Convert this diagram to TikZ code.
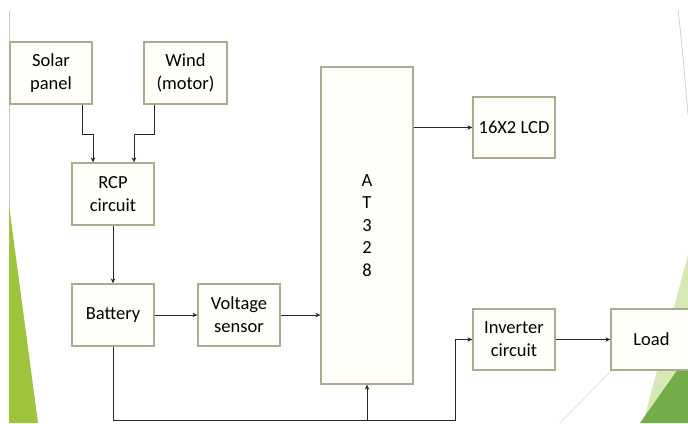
\documentclass[tikz,border=0pt]{standalone}
\usepackage{fontspec}
\setmainfont{Carlito}
\usetikzlibrary{arrows.meta}
\definecolor{boxline}{HTML}{ABAB90}
\definecolor{boxfill}{HTML}{FFFFFA}
\definecolor{leafgreen}{HTML}{9DC43C}
\definecolor{palegreen}{HTML}{D6E8B4}
\definecolor{deepgreen}{HTML}{72AD48}
\tikzset{
  block/.style={draw=boxline, fill=boxfill, line width=1.3pt, inner sep=0pt,
    minimum width=82pt, minimum height=62pt, align=center,
    font=\fontsize{18.5}{23}\selectfont},
  wire/.style={draw=black!85, line width=1pt, -{Stealth[length=5pt,width=4.5pt]}}
}
\begin{document}
\begin{tikzpicture}[x=1pt, y=-1pt]
    \useasboundingbox (0,0) rectangle (688,423);

    % slide decoration
    \draw[gray!45, line width=0.8pt] (9,11) -- (9,210);
    \fill[leafgreen] (9,205) -- (9,423) -- (38,423) -- cycle;
    \fill[palegreen] (688,255) -- (643,423) -- (688,423) -- cycle;
    \fill[deepgreen] (688,355) -- (640,423) -- (688,423) -- cycle;
    \draw[gray!25, line width=0.7pt] (611,371) -- (560,423);
    \draw[gray!40, line width=0.7pt] (678,10) .. controls (682,45) .. (688,115);

    % blocks
    \node[block] (solar) at (51,73) {Solar\\panel};
    \node[block, minimum width=83pt] (wind) at (185.5,73) {Wind\\(motor)};
    \node[block] (rcp) at (113,194) {RCP\\circuit};
    \node[block] (battery) at (113,315) {Battery};
    \node[block] (sensor) at (239,315) {Voltage\\sensor};
    \node[block, minimum width=92pt, minimum height=317pt, font=\fontsize{18.5}{22.5}\selectfont] (mcu) at (367,225.5) {A\\T\\3\\2\\8};
    \node[block, minimum height=61pt] (lcd) at (514,127.5) {16X2 LCD};
    \node[block, minimum height=61pt] (inverter) at (514,339.5) {Inverter\\circuit};
    \node[block, minimum width=81pt, minimum height=61pt] (load) at (651.5,339.5) {Load};

    \coordinate (bus) at (455,420);

    % connectors
    \draw[wire] ([xshift=31pt]solar.south) -- ++(0,30) -| ([xshift=-20pt]rcp.north);
    \draw[wire] ([xshift=-31.5pt]wind.south) -- ++(0,30) -| ([xshift=21pt]rcp.north);
    \draw[wire] (rcp) -- (battery);
    \draw[wire] (battery) -- (sensor);
    \draw[wire] (sensor.east) -- (sensor.east -| mcu.west);
    \draw[wire] (mcu.east |- lcd) -- (lcd);
    \draw[wire] (battery.south) |- (bus) |- (inverter.west);
    \draw[wire] (mcu.south |- bus) -- (mcu.south);
    \draw[wire] (inverter) -- (load);
\end{tikzpicture}
\end{document}
